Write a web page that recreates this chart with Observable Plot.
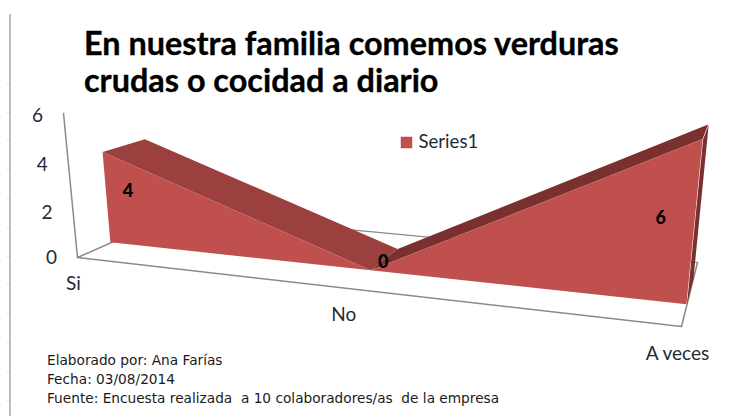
<!DOCTYPE html>
<html><head><meta charset="utf-8">
<script src="https://cdn.jsdelivr.net/npm/d3@7"></script>
<script src="https://cdn.jsdelivr.net/npm/@observablehq/plot@0.6"></script>
<style>
html,body{margin:0;padding:0;background:#fff}
#wrap{position:relative;width:754px;height:416px;overflow:hidden}
#title{position:absolute;left:84px;top:24px;font:700 32.4px/37px Lato,sans-serif;color:#000;margin:0;-webkit-text-stroke:.35px #000}
#note{position:absolute;left:47px;top:351px;font:13.7px/19px "DejaVu Sans",sans-serif;color:#1a1a1a;white-space:pre}
</style></head><body>
<div id="wrap">
<h1 id="title">En nuestra familia comemos verduras<br>crudas o cocidad a diario</h1>
<div id="note">Elaborado por: Ana Farías
Fecha: 03/08/2014
Fuente: Encuesta realizada  a 10 colaboradores/as  de la empresa</div>
</div>
<script>
const categories = ["Si", "No", "A veces"];
const values = [4, 0, 6];
const valueTicks = [0, 2, 4, 6];
const seriesName = "Series1";
const sideTicks = [83,112,140,169,198,227,256,284,313,342,371,400];

// Camera of the 3D chart: floor corners and vertical vanishing point, then a perspective map.
const floor = [[77,257],[681,326],[697,262],[177,213]];
const vanish = [383,3407], heightK = -0.00729;
const [p0,p1,p2,p3] = floor;
const dx1=p1[0]-p2[0],dx2=p3[0]-p2[0],sx=p0[0]-p1[0]+p2[0]-p3[0];
const dy1=p1[1]-p2[1],dy2=p3[1]-p2[1],sy=p0[1]-p1[1]+p2[1]-p3[1];
const den=dx1*dy2-dx2*dy1, G=(sx*dy2-dx2*sy)/den, Hh=(dx1*sy-sx*dy1)/den;
const A=p1[0]-p0[0]+G*p1[0],B=p3[0]-p0[0]+Hh*p3[0],D=p1[1]-p0[1]+G*p1[1],E=p3[1]-p0[1]+Hh*p3[1];
function proj(s,t,v){
  const w=G*s+Hh*t+1+v*heightK;
  return [(A*s+B*t+p0[0]+v*heightK*vanish[0])/w,(D*s+E*t+p0[1]+v*heightK*vanish[1])/w];
}
const px=(s,t,v)=>proj(s,t,v)[0], py=(s,t,v)=>proj(s,t,v)[1];
const front=0.30, back=0.71, red="#c0504d", topLeft="#9b403e", topRight="#79302f";

const rows=categories.map((c,i)=>({c,i,s:i/(categories.length-1),v:values[i]}));
const band=(data,t1,v1,t2,v2,fill)=>Plot.area(data,{
  x1:d=>px(d.s,t1,v1(d)),y1:d=>py(d.s,t1,v1(d)),
  x2:d=>px(d.s,t2,v2(d)),y2:d=>py(d.s,t2,v2(d)),fill,curve:"linear"});
const val=d=>d.v, zero=()=>0;
const seg=(pts,o={})=>Plot.line(pts,{x:d=>proj(...d)[0],y:d=>proj(...d)[1],stroke:"#8a8a8a",strokeWidth:1.5,...o});
const labelNudge=[[21,-7],[12,-9],[-34,-6]];
const catNudge=[[-4,26],[-5,26],[-4,27]];

const chart=Plot.plot({
  width:754,height:416,margin:0,
  x:{domain:[0,754],range:[0,754],axis:null},
  y:{domain:[0,416],range:[0,416],axis:null},
  style:{background:"transparent",position:"absolute",left:0,top:0},
  marks:[
    Plot.ruleX([9.5],{y1:14,y2:416,stroke:"#bcbcbc",strokeWidth:2}),
    Plot.ruleY(sideTicks,{x1:7,x2:9,stroke:"#dddddd",strokeWidth:1}),
    seg([[0,0,0],[0,0,6]]),
    seg([[0,0,0],[1,0,0]]),
    seg([[0,0,0],[0,1,0]]),
    seg([[0,1,0],[1,1,0]],{strokeWidth:1.2}),
    seg([[1,0,0],[1,1,0]]),
    band(rows.slice(0,2),back,val,front,val,topLeft),
    band(rows.slice(1,3),back,val,front,val,topRight),
    Plot.line([[1,front,0],[1,back,0],[1,back,6],[1,front,6]],{x:d=>proj(...d)[0],y:d=>proj(...d)[1],fill:topRight,stroke:"none"}),
    band(rows,front,val,front,zero,red),
    Plot.text(valueTicks,{x:v=>px(0,0,v)-26,y:v=>py(0,0,v)+(v?2:0),text:v=>String(v),fontSize:19,fontFamily:"Lato",fill:"#1f2a38"}),
    Plot.text(rows,{x:d=>px(d.s,0,0)+catNudge[d.i][0],y:d=>py(d.s,0,0)+catNudge[d.i][1],text:"c",fontSize:19,fontFamily:"Lato",fill:"#1f2a38"}),
    Plot.text(rows,{x:d=>px(d.s,front,d.v/2)+labelNudge[d.i][0],y:d=>py(d.s,front,d.v/2)+labelNudge[d.i][1],text:d=>String(d.v),fontSize:18,fontWeight:900,fontFamily:"Lato",fill:"#000"}),
    Plot.dot([seriesName],{x:()=>406,y:()=>142,symbol:"square",r:6.5,fill:red}),
    Plot.text([seriesName],{x:()=>418,y:()=>142,text:d=>d,textAnchor:"start",fontSize:18.6,fontFamily:"Lato",fill:"#1f2a38",letterSpacing:1.2})
  ]
});
document.getElementById("wrap").prepend(chart);
</script>
</body></html>
